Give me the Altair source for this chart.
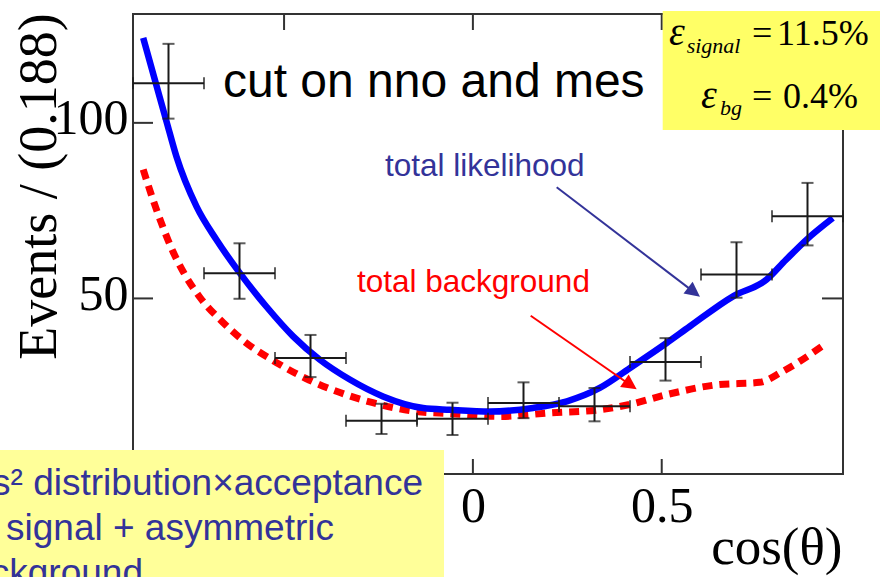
import math
import altair as alt
import pandas as pd

# ---------------- data ----------------
bin_centers = [-0.806, -0.618, -0.430, -0.242, -0.054, 0.134, 0.322, 0.510, 0.698, 0.886]
bin_half = 0.094
events = [111.3, 57.2, 33.0, 15.2, 15.7, 20.2, 19.3, 31.9, 56.8, 73.4]
err_hi = [11.2, 8.5, 6.6, 4.8, 4.6, 5.9, 5.2, 6.8, 9.2, 9.5]
err_lo = [10.1, 7.3, 5.4, 3.8, 4.6, 4.3, 4.3, 5.3, 6.6, 8.3]

lik_x = [-0.873, -0.838, -0.811, -0.785, -0.732, -0.679, -0.617, -0.547, -0.476, -0.406,
         -0.326, -0.238, -0.132, -0.061, 0.045, 0.159, 0.249, 0.336, 0.423, 0.513,
         0.574, 0.689, 0.777, 0.829, 0.883, 0.953]
lik_y = [124.2, 110.7, 100.3, 90.4, 76.2, 66.7, 57.2, 47.7, 39.2, 32.6,
         26.9, 22.1, 18.8, 18.3, 17.8, 18.8, 20.7, 24.5, 30.7, 37.3,
         42.0, 50.6, 55.3, 61.0, 66.7, 72.9]

bg_x = [-0.873, -0.847, -0.820, -0.794, -0.767, -0.722, -0.661, -0.601, -0.529, -0.442,
        -0.352, -0.265, -0.151, -0.061, 0.071, 0.204, 0.336, 0.415, 0.513, 0.646,
        0.759, 0.820, 0.937]
bg_y = [86.7, 78.1, 70.1, 63.3, 57.6, 50.2, 43.1, 37.4, 32.3, 27.2,
        23.2, 20.3, 17.8, 17.2, 16.4, 17.4, 18.3, 19.8, 22.6, 25.4,
        26.1, 29.2, 37.3]

x_tick_values = [-0.5, 0.0, 0.5]
y_tick_values = [50, 100]

# ---------------- layout ----------------
W, H = 710, 460
PAD = {"left": 133, "top": 14, "right": 37, "bottom": 103}
SERIF = "Liberation Serif"
SANS = "Liberation Sans"

xscale = alt.Scale(domain=[-0.9, 0.98], nice=False, zero=False)
yscale = alt.Scale(domain=[0, 131], nice=False, zero=False)

xaxis = alt.Axis(values=x_tick_values, format=".1~f", domain=False, ticks=False, grid=False,
                 labelFont=SERIF, labelFontSize=50, labelColor="black", labelPadding=7,
                 labelFlush=False, labelOverlap=False,
                 title="cos(θ)", titleFont=SERIF, titleFontSize=53, titleFontWeight="normal",
                 titleColor="black", titleX=709, titleY=89, titleAlign="right",
                 titleBaseline="alphabetic")
yaxis = alt.Axis(values=y_tick_values, format="d", domain=False, ticks=False, grid=False,
                 labelFont=SERIF, labelFontSize=50, labelColor="black", labelPadding=5,
                 labelOffset=-4, labelFlush=False, labelOverlap=False,
                 title="Events / (0.188)", titleFont=SERIF, titleFontSize=54,
                 titleFontWeight="normal", titleColor="black", titleAngle=270,
                 titleX=-78, titleY=172, titleAlign="center", titleBaseline="alphabetic")


def X(f):
    return alt.X(f, type="quantitative", scale=xscale, axis=xaxis)


def Y(f):
    return alt.Y(f, type="quantitative", scale=yscale, axis=yaxis)


pts = pd.DataFrame({
    "x": bin_centers,
    "xl": [c - bin_half for c in bin_centers],
    "xr": [c + bin_half for c in bin_centers],
    "v": events,
    "hi": [v + e for v, e in zip(events, err_hi)],
    "lo": [v - e for v, e in zip(events, err_lo)],
})
lik = pd.DataFrame({"x": lik_x, "y": lik_y})
bg = pd.DataFrame({"x": bg_x, "y": bg_y})
xt = pd.DataFrame({"xtick": x_tick_values})
yt = pd.DataFrame({"ytick": y_tick_values})
one = pd.DataFrame({"k": [0]})

FRAME = "#333333"
EB = "#1a1a1a"

# inward ticks on all four sides
ticks_bottom = alt.Chart(xt).mark_rule(color=FRAME, strokeWidth=2).encode(
    x=X("xtick"), y=alt.value(H), y2=alt.value(H - 15))
ticks_top = alt.Chart(xt).mark_rule(color=FRAME, strokeWidth=2).encode(
    x=X("xtick"), y=alt.value(0), y2=alt.value(16))
ticks_left = alt.Chart(yt).mark_rule(color=FRAME, strokeWidth=2).encode(
    y=Y("ytick"), x=alt.value(0), x2=alt.value(20))
ticks_right = alt.Chart(yt).mark_rule(color=FRAME, strokeWidth=2).encode(
    y=Y("ytick"), x=alt.value(W), x2=alt.value(W - 21))

bg_line = alt.Chart(bg).mark_line(color="#FF0000", strokeWidth=7, strokeDash=[10, 7],
                                  interpolate="monotone").encode(x=X("x"), y=Y("y"))
lik_line = alt.Chart(lik).mark_line(color="#0000FF", strokeWidth=6.5,
                                    interpolate="monotone").encode(x=X("x"), y=Y("y"))

eb_v = alt.Chart(pts).mark_rule(color=EB, strokeWidth=2).encode(x=X("x"), y=Y("lo"), y2="hi")
eb_h = alt.Chart(pts).mark_rule(color=EB, strokeWidth=2).encode(x=X("xl"), x2="xr", y=Y("v"))
cap_hi = alt.Chart(pts).mark_tick(color=EB, orient="horizontal", size=12, thickness=2).encode(
    x=X("x"), y=Y("hi"))
cap_lo = alt.Chart(pts).mark_tick(color=EB, orient="horizontal", size=12, thickness=2).encode(
    x=X("x"), y=Y("lo"))
cap_l = alt.Chart(pts).mark_tick(color=EB, orient="vertical", size=12, thickness=2).encode(
    x=X("xl"), y=Y("v"))
cap_r = alt.Chart(pts).mark_tick(color=EB, orient="vertical", size=12, thickness=2).encode(
    x=X("xr"), y=Y("v"))


def text(txt, x, y, size, color, font=SANS, align="left", style="normal"):
    d = pd.DataFrame({"t": [txt]})
    return alt.Chart(d).mark_text(align=align, baseline="alphabetic", font=font,
                                  fontSize=size, fontStyle=style, color=color).encode(
        text="t:N", x=alt.value(x), y=alt.value(y))


def arrow(x0, y0, x1, y1, color):
    dx, dy = x1 - x0, y1 - y0
    L = math.hypot(dx, dy)
    ux, uy = dx / L, dy / L
    ang = math.degrees(math.atan2(dy, dx))
    head = 15
    shaft = alt.Chart(one).mark_rule(color=color, strokeWidth=2).encode(
        x=alt.value(x0), y=alt.value(y0),
        x2=alt.value(x1 - ux * head * 0.8), y2=alt.value(y1 - uy * head * 0.8))
    tip = alt.Chart(one).mark_point(shape="M1,0L-1,-1L-1,1Z", filled=True, color=color,
                                    opacity=1, size=head * head, angle=ang, strokeWidth=0).encode(
        x=alt.value(x1 - ux * head / 2), y=alt.value(y1 - uy * head / 2))
    return shaft + tip


def box(x0, x1, y0, y1, color):
    return alt.Chart(one).mark_rect(color=color, opacity=1).encode(
        x=alt.value(x0), x2=alt.value(x1), y=alt.value(y0), y2=alt.value(y1))


BLUE_TXT = "#333399"

layers = [
    ticks_bottom, ticks_top, ticks_left, ticks_right,
    bg_line, lik_line,
    eb_v, eb_h, cap_hi, cap_lo, cap_l, cap_r,
    text("cut on nno and mes", 90, 83, 48, "black"),
    text("total likelihood", 252, 162, 31.5, BLUE_TXT),
    text("total background", 224, 278, 31.5, "#FF0000"),
    arrow(423.7, 173.3, 567, 282.7, BLUE_TXT),
    arrow(397.7, 301.7, 503.7, 375.3, "#FF0000"),
    # efficiency box (top right)
    box(529.7, 747, -3, 116, "#FFFF66"),
    text("ε", 536, 31, 40, "black", font=SERIF, style="italic"),
    text("signal", 553.7, 39, 22, "black", font=SERIF, style="italic"),
    text("=", 619, 31, 36, "black", font=SERIF),
    text("11.5%", 644, 31, 36, "black", font=SERIF),
    text("ε", 568, 94, 40, "black", font=SERIF, style="italic"),
    text("bg", 587, 101, 22, "black", font=SERIF, style="italic"),
    text("=", 619, 94, 36, "black", font=SERIF),
    text("0.4%", 650, 94, 36, "black", font=SERIF),
    # note box (bottom left)
    box(-133, 311, 436, 563, "#FFFF99"),
    text("s² distribution×acceptance", 290, 481, 37, BLUE_TXT, align="right"),
    text("signal + asymmetric", -127, 526, 37, BLUE_TXT),
    text("background", 10, 571, 37, BLUE_TXT, align="right"),
]

chart = alt.layer(*layers).properties(
    width=W, height=H,
    autosize=alt.AutoSizeParams(type="none"),
    padding=PAD,
    background="white",
).configure_view(stroke=FRAME, strokeWidth=2)

chart.save("out.html", embed_options={"renderer": "svg", "actions": False})
